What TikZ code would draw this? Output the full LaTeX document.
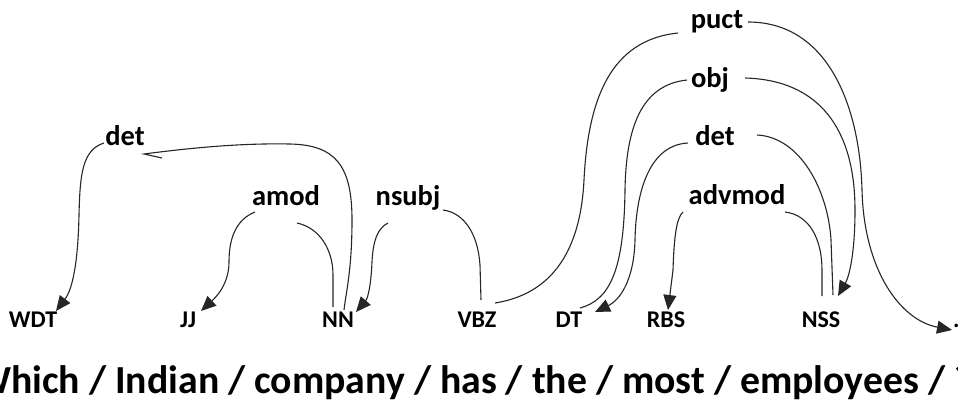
\documentclass[tikz,border=0pt]{standalone}
\usepackage{fontspec}
\setmainfont{Carlito}
\usetikzlibrary{arrows.meta}
\begin{document}
\begin{tikzpicture}[x=1pt,y=-1pt,
  rel/.style={inner sep=0pt,anchor=base,font=\bfseries\fontsize{28.5}{30}\selectfont},
  tag/.style={inner sep=0pt,anchor=base,font=\bfseries\fontsize{24}{26}\selectfont},
  arc/.style={line width=1.1pt,draw=black!85},
  dep/.style={arc,-{Triangle[length=15pt,width=13pt]}}]
\useasboundingbox (0,0) rectangle (958,399);

% relation labels
\node[rel] (det1)   at (125,145) {det};
\node[rel] (amod)   at (286,205) {amod};
\node[rel] (nsubj)  at (408,205) {nsubj};
\node[rel] (puct)   at (717,28)  {puct};
\node[rel] (obj)    at (710,87)  {obj};
\node[rel] (det2)   at (715,145) {det};
\node[rel] (advmod) at (737,204) {advmod};

% part-of-speech tags
\node[tag] (wdt) at (33,327)  {WDT};
\node[tag] (jj)  at (188,327) {JJ};
\node[tag] (nn)  at (338,327) {NN};
\node[tag] (vbz) at (477,327) {VBZ};
\node[tag] (dt)  at (569,327) {DT};
\node[tag] (rbs) at (666,327) {RBS};
\node[tag] (nss) at (821,327) {NSS};
\node[tag,anchor=base west] (pt) at (953,327) {.};

% sentence
\node[inner sep=0pt,anchor=base west,font=\bfseries\fontsize{39.75}{42}\selectfont] (sent) at (-25,393)
  {Which / Indian / company / has / the / most / employees / ?};

% det: NN -> WDT
\draw[dep] ([shift={(-21,-2)}]det1.base) .. controls (82,150) and (80,175) .. (79,215)
  .. controls (78,265) and (72,290) .. ([shift={(23,-16)}]wdt.base);
\draw[arc] ([shift={(37,13)}]det1.base) -- (144,154) .. controls (190,148) and (240,143) .. (290,144)
  .. controls (335,145) and (352,165) .. (352,220)
  .. controls (352,270) and (346,292) .. ([shift={(6,-17)}]nn.base);

% amod: NN -> JJ
\draw[dep] ([shift={(-31,7)}]amod.base) .. controls (235,220) and (229,240) .. (229,262)
  .. controls (229,285) and (215,298) .. ([shift={(13,-16)}]jj.base);
\draw[arc] ([shift={(11,18)}]amod.base) .. controls (320,228) and (333,250) .. (333,275)
  -- ([shift={(-5,-20)}]nn.base);

% nsubj: VBZ -> NN
\draw[dep] ([shift={(-20,18)}]nsubj.base) .. controls (378,228) and (373,240) .. (372,262)
  .. controls (371,285) and (368,298) .. ([shift={(18,-15)}]nn.base);
\draw[arc] ([shift={(35,5)}]nsubj.base) .. controls (465,213) and (478,235) .. (480,265)
  -- ([shift={(4,-27)}]vbz.base);

% puct: VBZ -> .
\draw[arc] ([shift={(-39,5)}]puct.base) .. controls (610,40) and (588,100) .. (584,180)
  .. controls (580,260) and (545,295) .. ([shift={(18,-24)}]vbz.base);
\draw[dep] ([shift={(31,-6)}]puct.base) .. controls (830,22) and (860,110) .. (862,190)
  .. controls (864,270) and (900,320) .. ([shift={(-1,3)}]pt.base west);

% obj: DT -> NSS
\draw[arc] ([shift={(-23,-7)}]obj.base) .. controls (640,85) and (626,130) .. (625,190)
  .. controls (624,270) and (610,300) .. ([shift={(11,-19)}]dt.base);
\draw[dep] ([shift={(35,-9)}]obj.base) .. controls (820,80) and (855,130) .. (855,210)
  .. controls (855,250) and (850,275) .. ([shift={(17,-31)}]nss.base);

% det: NSS -> DT
\draw[dep] ([shift={(-27,-2)}]det2.base) .. controls (650,145) and (636,190) .. (635,240)
  .. controls (634,280) and (620,300) .. ([shift={(26,-15)}]dt.base);
\draw[arc] ([shift={(42,-10)}]det2.base) .. controls (800,137) and (828,190) .. (831,240)
  -- ([shift={(12,-32)}]nss.base);

% advmod: NSS -> RBS
\draw[dep] ([shift={(-54,8)}]advmod.base) .. controls (676,218) and (674,240) .. (673,270)
  -- ([shift={(2,-17)}]rbs.base);
\draw[arc] ([shift={(48,8)}]advmod.base) .. controls (810,215) and (822,240) .. (822,270)
  -- ([shift={(1,-31)}]nss.base);
\end{tikzpicture}
\end{document}
